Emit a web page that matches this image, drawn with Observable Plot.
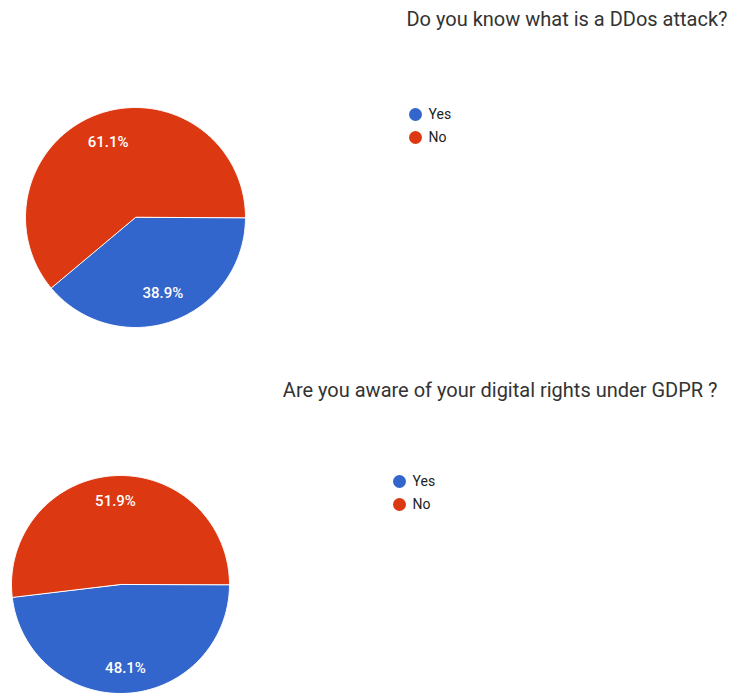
<!DOCTYPE html>
<html><head><meta charset="utf-8">
<script src="https://cdn.jsdelivr.net/npm/d3@7"></script>
<script src="https://cdn.jsdelivr.net/npm/@observablehq/plot@0.6"></script>
<style>body{margin:0;background:#fff;font-family:Roboto,sans-serif;}</style>
</head><body><div id="chart"></div>
<script>
// ---- data ----
const questions = ["Do you know what is a DDos attack?", "Are you aware of your digital rights under GDPR ?"];
const answers = ["Yes", "No"];
const ddosValues = [38.9, 61.1];
const gdprValues = [48.1, 51.9];
const colors = ["#3366cc", "#dc3912"];
const seriesValues = [ddosValues, gdprValues];

// ---- layout (pixel positions) ----
const W = 732, H = 693;
const layout = [
  {cx: 135, cy: 217, r: 110, labelR: 0.73, titleX: 727, titleY: 19, legendX: 415, legendY: 114},
  {cx: 120, cy: 584, r: 109, labelR: 0.77, titleX: 717, titleY: 390, legendX: 399, legendY: 481}
];

const slicePoints = [], labels = [], legendRows = [], titles = [];
seriesValues.forEach((vals, qi) => {
  const L = layout[qi];
  const total = d3.sum(vals);
  let a = Math.PI / 2; // start at 3 o'clock, go clockwise
  vals.forEach((v, i) => {
    const a0 = a, a1 = a + 2 * Math.PI * v / total;
    const id = qi + "-" + i;
    slicePoints.push({id, ans: answers[i], x: L.cx, y: L.cy});
    const n = Math.max(2, Math.ceil((a1 - a0) / (Math.PI / 180)));
    for (let k = 0; k <= n; k++) {
      const t = a0 + (a1 - a0) * k / n;
      slicePoints.push({id, ans: answers[i], x: L.cx + L.r * Math.sin(t), y: L.cy - L.r * Math.cos(t)});
    }
    const m = (a0 + a1) / 2;
    labels.push({x: L.cx + L.r * L.labelR * Math.sin(m), y: L.cy - L.r * L.labelR * Math.cos(m), text: v.toFixed(1) + "%"});
    legendRows.push({ans: answers[i], x: L.legendX, y: L.legendY + i * 23});
    a = a1;
  });
  titles.push({x: L.titleX, y: L.titleY, text: questions[qi]});
});

const chart = Plot.plot({
  width: W, height: H,
  margin: 0,
  x: {domain: [0, W], range: [0, W], axis: null},
  y: {domain: [0, H], range: [0, H], axis: null},
  color: {domain: answers, range: colors},
  style: {fontFamily: "Roboto, sans-serif", background: "#fff"},
  marks: [
    Plot.line(slicePoints, {x: "x", y: "y", z: "id", fill: "ans", stroke: "#fff", strokeWidth: 1, curve: "linear-closed", strokeLinejoin: "round"}),
    Plot.text(labels, {x: "x", y: "y", text: "text", fill: "#fff", fontSize: 15, fontWeight: 500}),
    Plot.dot(legendRows, {x: "x", y: "y", r: 6.5, fill: "ans", stroke: null}),
    Plot.text(legendRows, {x: "x", y: "y", dx: 13, text: "ans", textAnchor: "start", fill: "#222", fontSize: 14}),
    Plot.text(titles, {x: "x", y: "y", text: "text", textAnchor: "end", fill: "#333", fontSize: 20})
  ]
});
document.getElementById("chart").append(chart);
</script>
</body></html>
